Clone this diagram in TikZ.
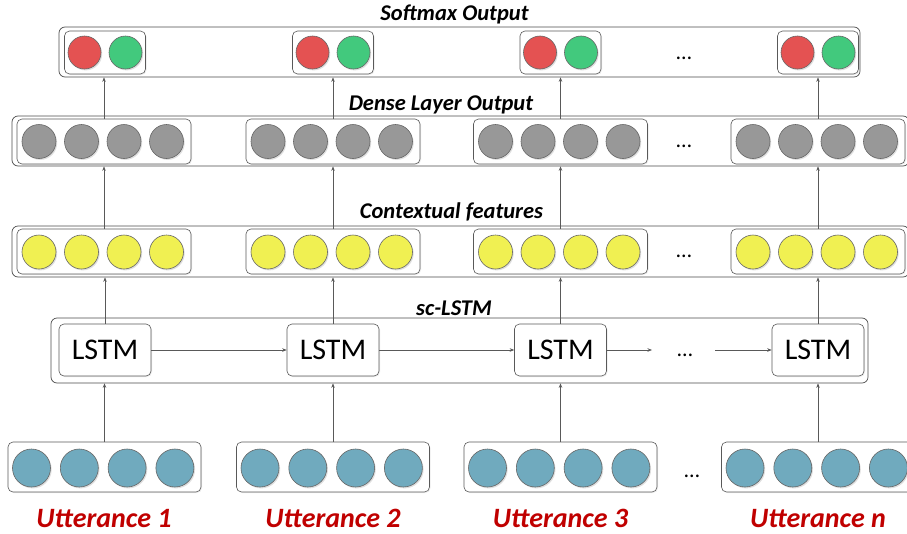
\documentclass[tikz,border=0pt]{standalone}
\usepackage{fontspec}
\setmainfont{Carlito}
\usepackage{tikz}
\usetikzlibrary{arrows.meta, shadows, positioning}
\usepackage{xcolor}

\definecolor{smred}{RGB}{228,82,82}
\definecolor{smgreen}{RGB}{66,201,125}
\definecolor{dngray}{RGB}{152,152,152}
\definecolor{cxyellow}{RGB}{240,240,82}
\definecolor{utblue}{RGB}{112,170,190}
\definecolor{utred}{RGB}{192,0,0}

\tikzset{
  layer/.style={draw=black!70, fill=white, rounded corners=6pt, line width=0.7pt, inner sep=0pt},
  grp/.style={draw=black!65, fill=white, rounded corners=5pt, line width=0.6pt, inner sep=0pt,
    drop shadow={shadow xshift=1pt, shadow yshift=-1pt, opacity=0.15}},
  unit/.style={circle, draw=black!60, line width=0.6pt, inner sep=0pt, minimum size=33pt,
    drop shadow={shadow xshift=1.2pt, shadow yshift=-1.4pt, opacity=0.25}},
  lstm/.style={grp, minimum width=92pt, minimum height=52pt, font=\fontsize{30}{32}\selectfont},
  title/.style={anchor=base, font=\fontsize{22.5}{25}\selectfont\bfseries\itshape},
  utt/.style={anchor=base, text=utred, font=\fontsize{28}{32}\selectfont\bfseries\itshape},
  more/.style={anchor=base, font=\fontsize{22}{24}\selectfont},
  arr/.style={draw=black!65, line width=0.6pt, -{Stealth[length=4.5pt,width=3.5pt]}}
}

\begin{document}
\begin{tikzpicture}[x=1pt,y=-1pt]
\useasboundingbox (0,0) rectangle (907,533);
\clip (0,0) rectangle (907,533);

% Layer boxes
\node[layer, minimum width=801pt, minimum height=50pt] (softmax) at (459.5,52) {};
\node[layer, minimum width=897pt, minimum height=50pt] (dense) at (460.5,141) {};
\node[layer, minimum width=897pt, minimum height=51pt] (context) at (460.5,251.5) {};
\node[layer, minimum width=817pt, minimum height=65pt] (sclstm) at (459.5,350.5) {};

% Layer titles
\node[title] (softmaxlbl) at (454.5,20.5) {Softmax Output};
\node[title] (denselbl) at (441,110) {Dense Layer Output};
\node[title] (contextlbl) at (451.5,218.5) {Contextual features};
\node[title] (sclstmlbl) at (454,315) {sc-LSTM};

% Softmax output
\foreach \i/\x in {1/105,2/333,3/560.5,4/818} {
  \node[grp, minimum width=81pt, minimum height=43pt] (s\i) at (\x,52.5) {};
  \node[unit, fill=smred] (s\i r) at (\x-20.5,52.5) {};
  \node[unit, fill=smgreen] (s\i g) at (\x+20.5,52.5) {};
}

% Dense layer and contextual features
\foreach \i/\x in {1/104,2/333,3/560.5,4/818} {
  \node[grp, minimum width=174pt, minimum height=45pt] (d\i) at (\x,141.5) {};
  \node[grp, minimum width=174pt, minimum height=45pt] (c\i) at (\x,251.5) {};
  \foreach \k in {0,1,2,3} {
    \node[unit, minimum size=34pt, fill=dngray] (d\i\k) at (\x-65+42.5*\k,141.5) {};
    \node[unit, minimum size=34pt, fill=cxyellow] (c\i\k) at (\x-65+42.5*\k,252) {};
  }
}

% LSTM cells
\foreach \i/\x in {1/105,2/333,3/560.5,4/818}
  \node[lstm, anchor=center] (l\i) at (\x,350) {\raisebox{0pt}[19pt][0pt]{LSTM}};

% Utterances
\foreach \i/\x in {1/104.5,2/333,3/560.5,4/818} {
  \node[grp, minimum width=193pt, minimum height=50pt] (u\i) at (\x,467) {};
  \foreach \k in {0,1,2,3}
    \node[unit, minimum size=38pt, fill=utblue] (u\i\k) at (\x-73+47.8*\k,468) {};
}
\node[utt] (u1lbl) at (104,527) {Utterance 1};
\node[utt] (u2lbl) at (333,527) {Utterance 2};
\node[utt] (u3lbl) at (560.5,527) {Utterance 3};
\node[utt] (u4lbl) at (818,527) {Utterance n};

% Dots
\node[more] (smdots) at (684,59) {\dots};
\node[more] (dndots) at (684,147) {\dots};
\node[more] (cxdots) at (684,257) {\dots};
\node[more] (lsdots) at (685,356) {\dots};
\node[more] (utdots) at (692,477) {\dots};

% Connections
\foreach \i in {1,2,3,4} {
  \draw[arr] (u\i.north) -- (u\i.north |- sclstm.south);
  \draw[arr] (l\i.north) -- (l\i.north |- context.south);
  \draw[arr] (c\i.north) -- (c\i.north |- dense.south);
  \draw[arr] (d\i.north) -- (d\i.north |- softmax.south);
}
\coordinate (gapl) at (652,350);
\coordinate (gapr) at (715,350);
\draw[arr] (l1.east) -- (l2.west);
\draw[arr] (l2.east) -- (l3.west);
\draw[arr] (l3.east) -- (gapl);
\draw[arr] (gapr) -- (l4.west);
\end{tikzpicture}
\end{document}
